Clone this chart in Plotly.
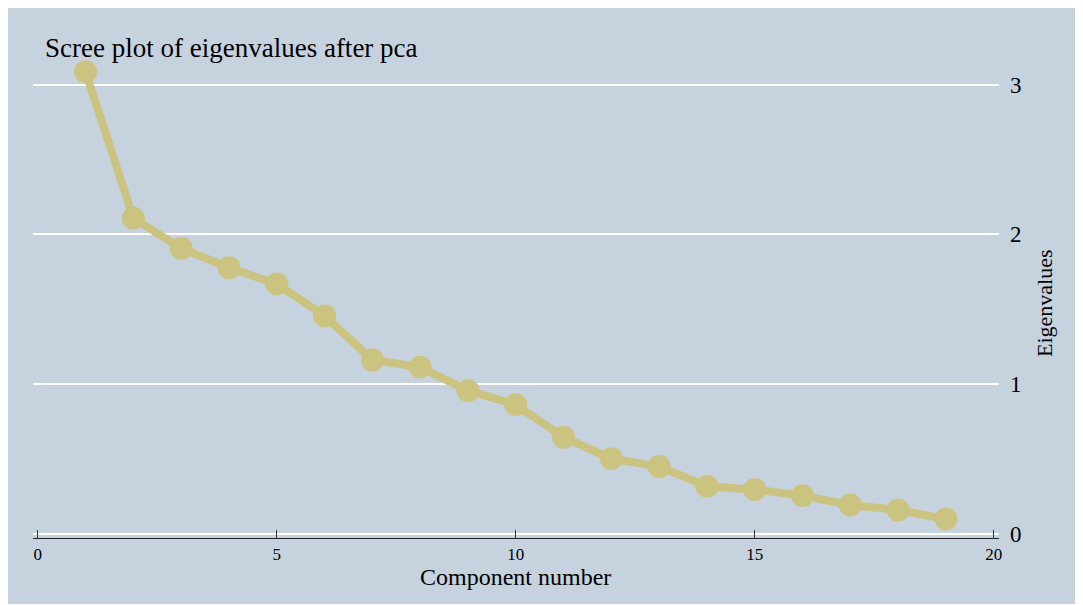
import plotly.graph_objects as go

components = list(range(1, 20))
eigenvalues = [3.086, 2.107, 1.906, 1.777, 1.668, 1.454, 1.160, 1.112, 0.955, 0.862,
               0.644, 0.501, 0.448, 0.317, 0.294, 0.254, 0.192, 0.158, 0.098]
x_ticks = [0, 5, 10, 15, 20]
y_ticks = [0, 1, 2, 3]

BG = "rgb(198,211,223)"
LINE = "rgb(203,195,128)"
FONT = "Liberation Serif"

OFF = 8  # page offset of the figure (body margin)
W, H = 1075, 596
L, R, T, B = 25, 84, 52, 66
pw, ph = W - L - R, H - T - B

def px(xp):
    return (xp - OFF - L) / pw

def py(yp):
    return (H - B - (yp - OFF)) / ph

fig = go.Figure()
fig.add_trace(go.Scatter(
    x=components, y=eigenvalues, mode="lines+markers",
    line=dict(color=LINE, width=8),
    marker=dict(color=LINE, size=23),
    showlegend=False, hoverinfo="skip",
))

fig.update_layout(
    width=W, height=H,
    margin=dict(l=L, r=R, t=T, b=B),
    paper_bgcolor=BG,
    plot_bgcolor=BG,
    font=dict(family=FONT, color="black"),
    xaxis=dict(range=[-0.1, 20.11], tickvals=x_ticks, showgrid=False, zeroline=False,
               showline=True, linecolor="#222", linewidth=1.2,
               ticks="inside", ticklen=8, tickwidth=1.2, tickcolor="#333",
               tickfont=dict(size=17, family=FONT), ticklabelstandoff=0),
    yaxis=dict(range=[-0.029, 3.164], tickvals=y_ticks, side="right",
               showgrid=True, gridcolor="white", gridwidth=2, zeroline=False,
               showline=False, ticks="", tickfont=dict(size=23, family=FONT),
               ticklabelstandoff=10),
    annotations=[
        dict(text="Scree plot of eigenvalues after pca", xref="paper", yref="paper",
             x=px(43), y=py(48), xanchor="left", yanchor="middle", showarrow=False,
             font=dict(size=27, family=FONT)),
        dict(text="Component number", xref="x", yref="paper", x=10, y=py(577),
             xanchor="center", yanchor="middle", showarrow=False,
             font=dict(size=24, family=FONT)),
        dict(text="Eigenvalues", xref="paper", yref="paper", x=px(1044), y=py(303),
             xanchor="center", yanchor="middle", textangle=-90, showarrow=False,
             font=dict(size=22, family=FONT)),
    ],
)

fig.write_html("out.html")
